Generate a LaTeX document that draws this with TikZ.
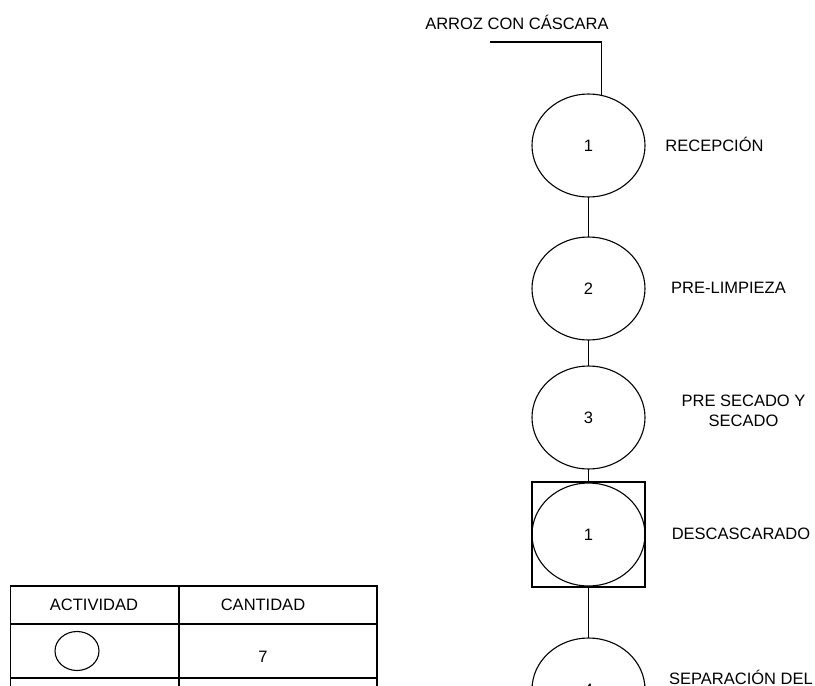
\documentclass[tikz,border=0pt]{standalone}
\usepackage{fontspec}
\setmainfont{Liberation Sans}
\usetikzlibrary{shapes.geometric, calc}

\tikzset{
  every node/.style={font=\fontsize{16.5}{19.5}\selectfont, inner sep=0pt, outer sep=0pt},
  opcirc/.style={draw, ellipse, line width=1.1pt, minimum width=113pt, minimum height=103pt},
  opbox/.style={draw, rectangle, line width=1.1pt, minimum width=113pt, minimum height=105pt},
  lbl/.style={align=center},
}

\begin{document}
\begin{tikzpicture}[x=1pt, y=-1pt, line width=1.1pt]
      \clip (0,0) rectangle (815,686);

      \node (rawlbl) at (517,22) {ARROZ CON CÁSCARA};
      \coordinate (raw) at (490,42);

      \node[opcirc] (op1) at (588.5,145.5) {1};
      \node[opcirc] (op2) at (588.5,288.5) {2};
      \node[opcirc] (op3) at (588.5,417.5) {3};
      \node[opbox] (comb) at (588.5,534.5) {};
      \node[opcirc] (op4) at (588.5,534.5) {1};
      \node[opcirc] (op5) at (588.5,689.5) {4};

      \node[lbl] (l1) at (714.5,144.5) {RECEPCIÓN};
      \node[lbl] (l2) at (728.5,287.5) {PRE-LIMPIEZA};
      \node[lbl] (l3) at (743.5,411) {PRE SECADO Y\\SECADO};
      \node[lbl] (l4) at (741,533.5) {DESCASCARADO};
      \node[lbl] (l5) at (741,677.5) {SEPARACIÓN DEL};

      \draw (raw) -| (op1.75);
      \draw (op1.south) -- (op2.north);
      \draw (op2.south) -- (op3.north);
      \draw (op3.south) -- (comb.north);
      \draw (comb.south) -- (op5.north);

      % table
      \draw (10.7,586) rectangle (377,720);
      \draw (179,586) -- (179,720);
      \draw (10.7,624) -- (377,624);
      \draw (10.7,678) -- (377,678);

      \node (th1) at (94,605) {ACTIVIDAD};
      \node (th2) at (263,605) {CANTIDAD};
      \node[draw, ellipse, minimum width=44pt, minimum height=39pt] (sym1) at (77,651) {};
      \node (n1) at (263,657) {7};
    \end{tikzpicture}
\end{document}
